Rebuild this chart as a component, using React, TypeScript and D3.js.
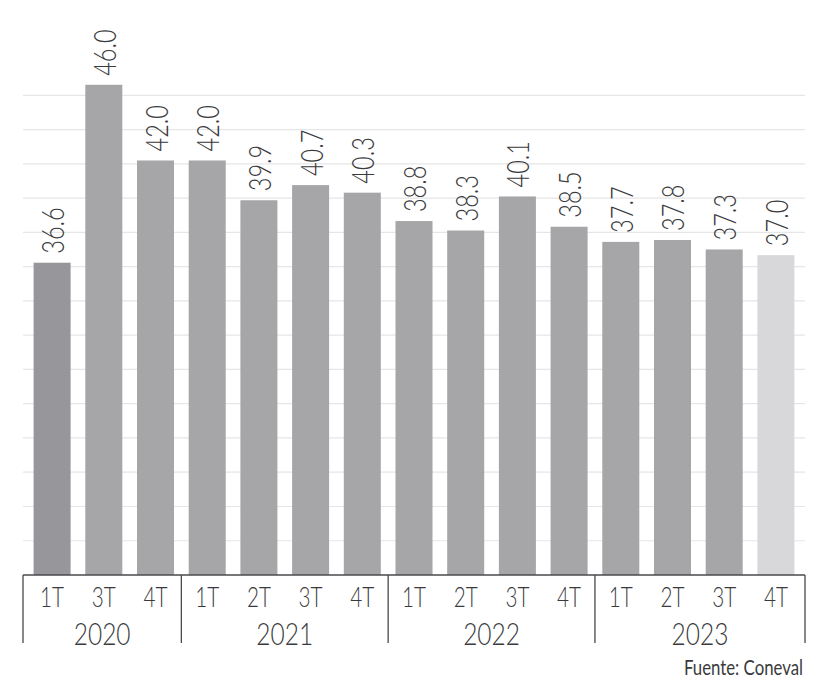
import React, { useEffect } from "react";
import * as d3 from "d3";

const quarters = ["1T", "3T", "4T", "1T", "2T", "3T", "4T", "1T", "2T", "3T", "4T", "1T", "2T", "3T", "4T"];
const barYears = ["2020", "2020", "2020", "2021", "2021", "2021", "2021", "2022", "2022", "2022", "2022", "2023", "2023", "2023", "2023"];
const values = [36.6, 46.0, 42.0, 42.0, 39.9, 40.7, 40.3, 38.8, 38.3, 40.1, 38.5, 37.7, 37.8, 37.3, 37.0];
const years = ["2020", "2021", "2022", "2023"];
const source = "Fuente: Coneval";

const W = 819;
const H = 687;
const left = 23;
const right = 805;
const baseY = 575;
const gridCount = 14;

export default function App() {
  useEffect(() => {
    document.body.style.margin = "0";
  }, []);

  const ids = values.map((_, i) => String(i));
  const x = d3.scaleBand<string>().domain(ids).range([left, right]).paddingInner(0.284).paddingOuter(0.205);
  const y = d3.scaleLinear().domain([20.1, 49.0]).range([baseY, 28]);
  const bw = x.bandwidth();
  const step = x.step();
  const gridStep = 1.81;
  const gridVals = d3.range(1, gridCount + 1).map((k) => 20.1 + k * gridStep);

  const groups = years.map((yr) => {
    const idx = barYears.map((b, i) => (b === yr ? i : -1)).filter((i) => i >= 0);
    return { yr, first: idx[0], last: idx[idx.length - 1] };
  });
  const dividers: number[] = [left];
  groups.forEach((g, gi) => {
    if (gi < groups.length - 1) {
      dividers.push((x(String(g.last)) as number) + bw + (step - bw) / 2);
    }
  });
  dividers.push(right);

  const textColor = "#3a3a3c";
  const font = "Lato, 'Open Sans', Roboto, sans-serif";

  const barColor = (i: number) =>
    i === 0 ? "#97979b" : i === values.length - 1 ? "#d8d8da" : "#a6a6a9";

  return (
    <svg width={W} height={H} style={{ position: "absolute", left: 0, top: 0, background: "#fff" }} fontFamily={font}>
      <rect x={0} y={0} width={W} height={H} fill="#ffffff" />
      {gridVals.map((v, i) => (
        <line key={"g" + i} x1={left} x2={right} y1={y(v)} y2={y(v)} stroke="#e6e6e6" strokeWidth={1.2} />
      ))}
      {values.map((v, i) => (
        <rect key={"b" + i} x={x(String(i))} y={y(v)} width={bw} height={baseY - y(v)} fill={barColor(i)} />
      ))}
      {values.map((v, i) => {
        const cx = (x(String(i)) as number) + bw / 2;
        return (
          <text
            key={"v" + i}
            transform={`translate(${cx + 12},${y(v) - 9}) rotate(-90) scale(0.76,1)`}
            textAnchor="start"
            fontSize={31}
            fontWeight={300}
            fill={textColor}
          >
            {v.toFixed(1)}
          </text>
        );
      })}
      <line x1={left} x2={right} y1={baseY} y2={baseY} stroke="#4a4a4c" strokeWidth={1.3} />
      {dividers.map((dx, i) => (
        <line key={"d" + i} x1={dx} x2={dx} y1={baseY} y2={643} stroke="#4a4a4c" strokeWidth={1.3} />
      ))}
      {quarters.map((q, i) => {
        const cx = (x(String(i)) as number) + bw / 2;
        return (
          <text
            key={"q" + i}
            transform={`translate(${cx},607) scale(0.74,1)`}
            textAnchor="middle"
            fontSize={28}
            fontWeight={300}
            fill={textColor}
          >
            {q}
          </text>
        );
      })}
      {groups.map((g, gi) => {
        const cx = (dividers[gi] + dividers[gi + 1]) / 2;
        return (
          <text
            key={"y" + gi}
            transform={`translate(${cx},645) scale(0.79,1)`}
            textAnchor="middle"
            fontSize={31}
            fontWeight={300}
            fill={textColor}
          >
            {g.yr}
          </text>
        );
      })}
      <text
        transform={`translate(803,675) scale(0.8,1)`}
        textAnchor="end"
        fontSize={21}
        fontWeight={400}
        fill={textColor}
      >
        {source}
      </text>
    </svg>
  );
}
